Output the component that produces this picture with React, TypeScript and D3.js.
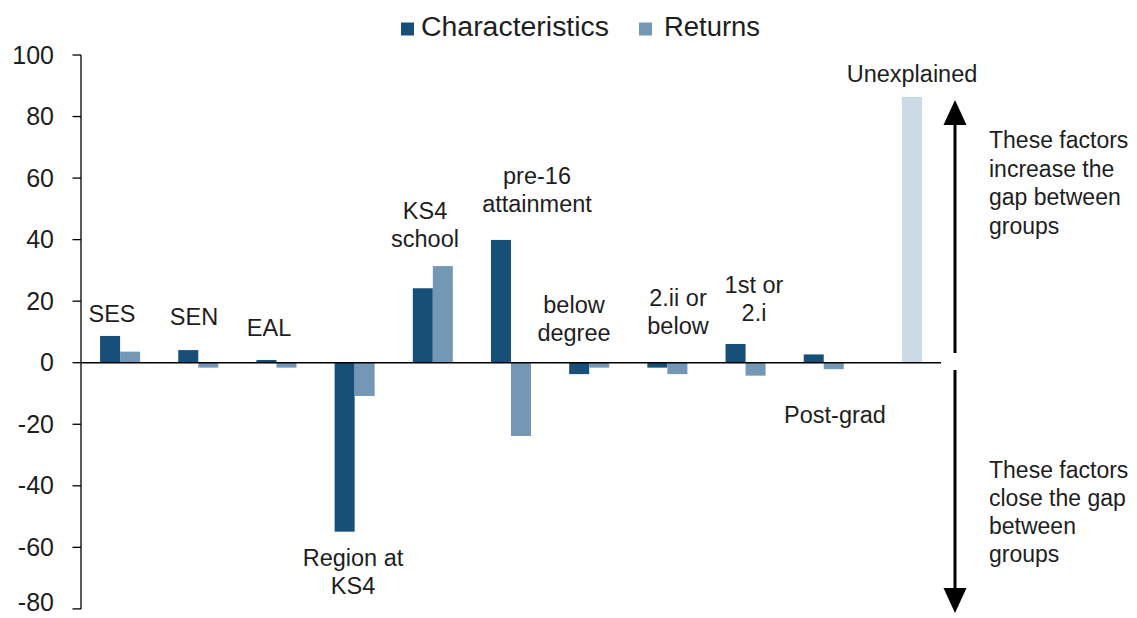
import React from "react";
import * as d3 from "d3";

const categories = ["SES", "SEN", "EAL", "Region", "KS4school", "pre16", "belowDegree", "twoii", "firstOr", "postgrad", "unexplained"];
const characteristics = [8.7, 4.1, 0.9, -54.9, 24.2, 39.9, -3.7, -1.6, 6.1, 2.7, null];
const returns = [3.6, -1.6, -1.6, -10.8, 31.4, -23.8, -1.6, -3.7, -4.2, -2.1, null];
const unexplained = [null, null, null, null, null, null, null, null, null, null, 86.4];
const yTicks = [100, 80, 60, 40, 20, 0, -20, -40, -60, -80];
const categoryLabels: { lines: string[]; x: number; y: number }[] = [
  { lines: ["SES"], x: 112, y: 322 },
  { lines: ["SEN"], x: 194, y: 325 },
  { lines: ["EAL"], x: 269, y: 336 },
  { lines: ["Region at", "KS4"], x: 353, y: 566 },
  { lines: ["KS4", "school"], x: 425, y: 219 },
  { lines: ["pre-16", "attainment"], x: 537, y: 184 },
  { lines: ["below", "degree"], x: 574, y: 313 },
  { lines: ["2.ii or", "below"], x: 678, y: 306 },
  { lines: ["1st or", "2.i"], x: 754, y: 293 },
  { lines: ["Post-grad"], x: 835, y: 423 },
  { lines: ["Unexplained"], x: 912, y: 82 },
];
const upperNote = ["These factors", "increase the", "gap between", "groups"];
const lowerNote = ["These factors", "close the gap", "between", "groups"];

const C_DARK = "#174f78";
const C_LIGHT = "#7497b5";
const C_UNEXP = "#ccdae5";
const TXT = "#1e1e1e";
const FONT = "'Liberation Sans', Arial, sans-serif";

export default function App() {
  const W = 1137, H = 618;
  const x0 = 81, x1 = 941;
  const y = d3.scaleLinear().domain([-80, 100]).range([608.9, 55]);
  const xb = d3.scaleBand<string>().domain(categories).range([x0, x1]).paddingInner(0.488).paddingOuter(0.244);
  const xs = d3.scaleBand<string>().domain(["c", "r"]).range([0, xb.bandwidth()]);
  const bar = (v: number | null, cat: string, slot: string, color: string, key: string) => {
    if (v === null || v === undefined) return null;
    const bx = (xb(cat) as number) + (xs(slot) as number);
    const top = y(Math.max(0, v));
    const h = Math.abs(y(v) - y(0));
    return <rect key={key} x={bx} y={top} width={xs.bandwidth()} height={h} fill={color} />;
  };
  return (
    <svg width={W} height={H} style={{ position: "absolute", left: 0, top: 0, background: "#fff" }} fontFamily={FONT}>
      <rect x={0} y={0} width={W} height={H} fill="#fff" />
      {/* legend */}
      <rect x={401} y={22.5} width={13} height={13} fill={C_DARK} />
      <text x={421} y={36} fontSize={27} fill={TXT} textLength={188} lengthAdjust="spacingAndGlyphs">Characteristics</text>
      <rect x={639} y={22.5} width={13} height={13} fill={C_LIGHT} />
      <text x={664} y={36} fontSize={27} fill={TXT} textLength={96} lengthAdjust="spacingAndGlyphs">Returns</text>
      {/* bars */}
      {categories.map((c, i) => bar(characteristics[i], c, "c", C_DARK, "c" + i))}
      {categories.map((c, i) => bar(returns[i], c, "r", C_LIGHT, "r" + i))}
      {categories.map((c, i) => bar(unexplained[i], c, "r", C_UNEXP, "u" + i))}
      {/* axis */}
      <line x1={x0} x2={x0} y1={y(100)} y2={y(-80)} stroke="#000" strokeWidth={1.3} />
      {yTicks.map((t) => (
        <g key={t}>
          <line x1={x0 - 8.5} x2={x0} y1={y(t)} y2={y(t)} stroke="#000" strokeWidth={1.3} />
          <text x={54} y={t === -80 ? y(t) - 6 : y(t)} dy="0.34em" textAnchor="end" fontSize={25} fill={TXT}>{t}</text>
        </g>
      ))}
      <line x1={x0} x2={x1} y1={y(0)} y2={y(0)} stroke="#000" strokeWidth={1.5} />
      {/* category labels */}
      {categoryLabels.map((l, i) => (
        <text key={i} x={l.x} y={l.y} textAnchor="middle" fontSize={23.5} fill={TXT}>
          {l.lines.map((s, j) => (
            <tspan key={j} x={l.x} y={l.y + j * 28}>{s}</tspan>
          ))}
        </text>
      ))}
      {/* arrows */}
      <line x1={955} x2={955} y1={353} y2={120} stroke="#000" strokeWidth={3} />
      <path d="M955,100 L943.5,125 L966.5,125 Z" fill="#000" />
      <line x1={955} x2={955} y1={370} y2={592} stroke="#000" strokeWidth={3} />
      <path d="M955,613 L943.5,588 L966.5,588 Z" fill="#000" />
      {/* notes */}
      <text x={989} y={148} fontSize={23} fill={TXT}>
        {upperNote.map((s, j) => (
          <tspan key={j} x={989} y={148 + j * 28.5}>{s}</tspan>
        ))}
      </text>
      <text x={989} y={478} fontSize={23} fill={TXT}>
        {lowerNote.map((s, j) => (
          <tspan key={j} x={989} y={478 + j * 28}>{s}</tspan>
        ))}
      </text>
    </svg>
  );
}
